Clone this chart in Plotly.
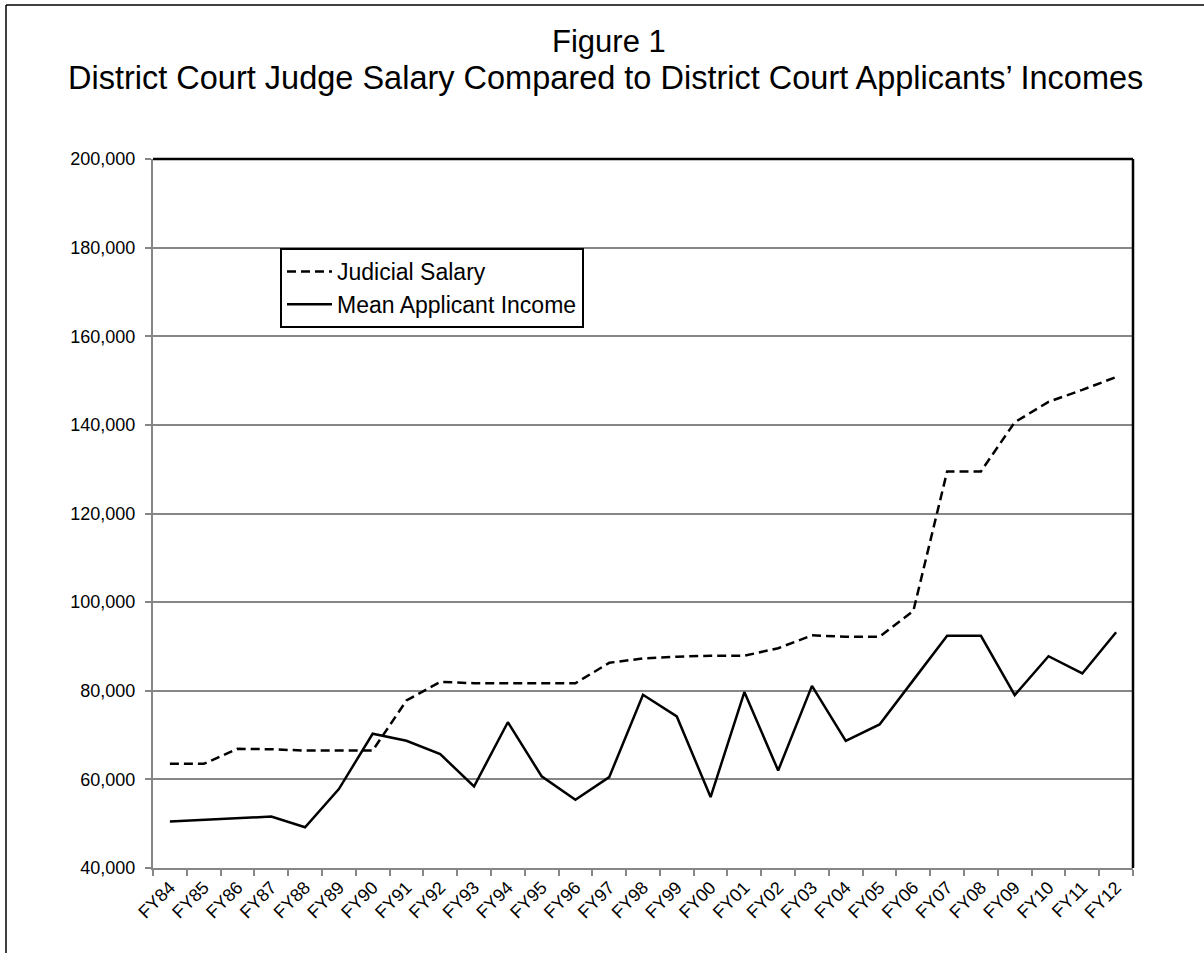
import plotly.graph_objects as go

categories = ["FY84", "FY85", "FY86", "FY87", "FY88", "FY89", "FY90", "FY91", "FY92", "FY93",
              "FY94", "FY95", "FY96", "FY97", "FY98", "FY99", "FY00", "FY01", "FY02", "FY03",
              "FY04", "FY05", "FY06", "FY07", "FY08", "FY09", "FY10", "FY11", "FY12"]

judicial_salary = [63500, 63500, 66900, 66800, 66500, 66500, 66500, 77800, 82000, 81700,
                   81700, 81700, 81700, 86300, 87300, 87700, 87900, 87900, 89600, 92500,
                   92200, 92200, 98000, 129500, 129500, 140600, 145200, 147900, 150800]

mean_income = [50500, 50900, 51200, 51600, 49200, 57800, 70300, 68700, 65700, 58400,
               72900, 60700, 55400, 60500, 79100, 74200, 56000, 79700, 62000, 81100,
               68700, 72400, 82400, 92400, 92400, 79000, 87800, 83900, 93200]

y_ticks = [40000, 60000, 80000, 100000, 120000, 140000, 160000, 180000, 200000]

W, H = 1204, 953
L, R, T, B = 153, 71, 159, 85
PW, PH = W - L - R, H - T - B
FONT = "Arial, Liberation Sans, sans-serif"


def px_x(x):
    return (x - L) / PW


def px_y(y):
    return (H - B - y) / PH


fig = go.Figure()
fig.add_trace(go.Scatter(x=categories, y=judicial_salary, mode="lines", name="Judicial Salary",
                         line=dict(color="black", width=2.5, dash="9px,5px")))
fig.add_trace(go.Scatter(x=categories, y=mean_income, mode="lines", name="Mean Applicant Income",
                         line=dict(color="black", width=2.5)))

fig.update_layout(
    width=W, height=H,
    margin=dict(l=L, r=R, t=T, b=B, pad=0),
    paper_bgcolor="white", plot_bgcolor="white",
    font=dict(family=FONT, color="black"),
    showlegend=True,
    legend=dict(x=px_x(280), y=px_y(248), xanchor="left", yanchor="top",
                bordercolor="black", borderwidth=2, bgcolor="white",
                font=dict(size=23, family=FONT), tracegroupgap=0, itemwidth=45),
    xaxis=dict(type="category", range=[-0.5, len(categories) - 0.5],
               tickangle=-45, tickson="boundaries", ticks="outside", ticklen=6,
               tickcolor="#868686", tickwidth=2, showgrid=False, showline=True,
               linecolor="#868686", linewidth=2, tickfont=dict(size=18, family=FONT),
               zeroline=False),
    yaxis=dict(range=[40000, 200000], tickvals=y_ticks, tickformat=",",
               ticks="outside", ticklen=6, tickcolor="#868686", tickwidth=2,
               ticklabelstandoff=6,
               showgrid=True, gridcolor="#868686", gridwidth=2,
               showline=True, linecolor="#868686", linewidth=2,
               tickfont=dict(size=18, family=FONT), zeroline=False),
)

shapes = [
    # black top and right border of plot area
    dict(type="line", xref="paper", yref="paper", x0=0, x1=1, y0=1, y1=1,
         line=dict(color="black", width=2.5)),
    dict(type="line", xref="paper", yref="paper", x0=1, x1=1, y0=0, y1=1,
         line=dict(color="black", width=2.5)),
    # outer chart frame
    dict(type="line", xref="paper", yref="paper", x0=px_x(6), x1=px_x(W + 5), y0=px_y(5), y1=px_y(5),
         line=dict(color="black", width=1.5)),
    dict(type="line", xref="paper", yref="paper", x0=px_x(6), x1=px_x(6), y0=px_y(5), y1=px_y(H + 5),
         line=dict(color="black", width=1.5)),
]
fig.update_layout(shapes=shapes)

fig.add_annotation(text="Figure 1", xref="paper", yref="paper", x=px_x(609), y=px_y(41),
                   xanchor="center", yanchor="middle", showarrow=False,
                   font=dict(size=31, family=FONT, color="black"))
fig.add_annotation(text="District Court Judge Salary Compared to District Court Applicants’ Incomes",
                   xref="paper", yref="paper", x=px_x(605), y=px_y(78),
                   xanchor="center", yanchor="middle", showarrow=False,
                   font=dict(size=32.5, family=FONT, color="black"))

fig.write_html("out.html")
